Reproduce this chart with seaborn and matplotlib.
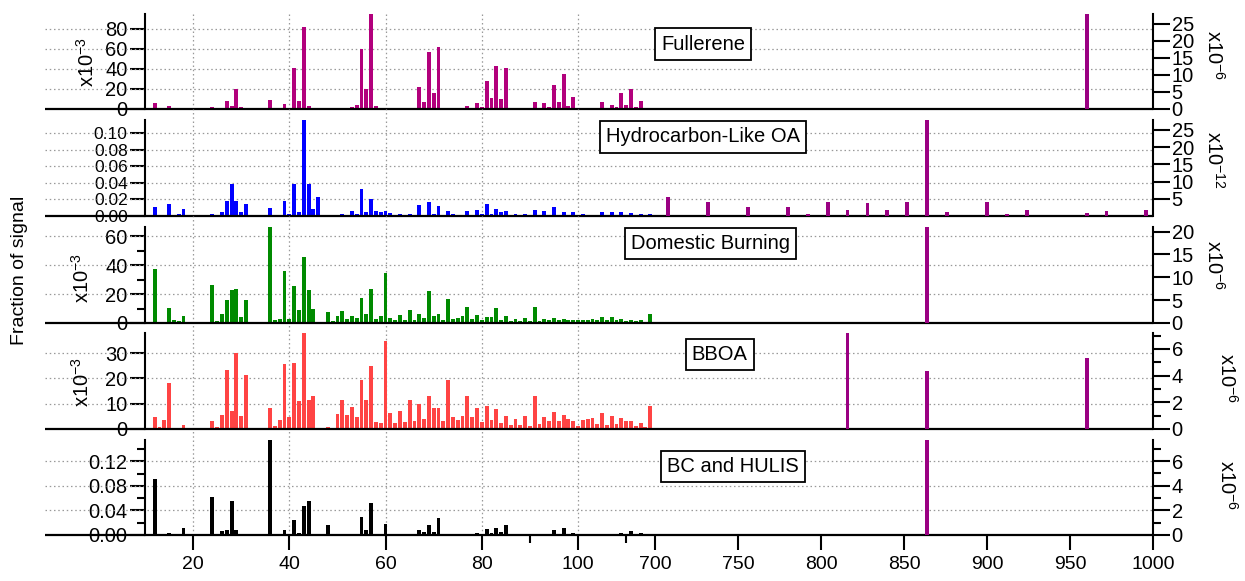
import numpy as np
import matplotlib
matplotlib.use("Agg")
import matplotlib.pyplot as plt
from matplotlib.ticker import FormatStrFormatter
import seaborn as sns

# ---------------- data ----------------
MZ = list(range(12, 116))

FULLERENE = [5.6, 0.5, 1.0, 2.6, 0.5, 0.5, 0.5, 0.3, 0, 0, 0, 0.3, 2.0, 0.3, 0.5, 8.3, 2.6, 19.6, 2.3, 1.3,
             0, 0, 0, 0.3, 9.3, 0.5, 0.5, 5.0, 1.5, 41, 8, 81.6, 3, 1, 1, 0.5, 0.5, 0.5, 0.5, 1,
             0.5, 2.3, 4, 60, 20, 95, 3, 0.5, 0.5, 0.5, 0.5, 0.5, 0.5, 1, 0.7, 21.6, 7.3, 57, 16.3, 62,
             0.5, 0.5, 0.3, 0.3, 0.3, 3.3, 0.3, 6, 2, 27.6, 11, 42.6, 10.3, 41, 0.5, 0.3, 0.3, 0.3, 0.3, 7.3,
             1.3, 5.6, 2, 24, 7.3, 35.3, 3.3, 12, 0.5, 0.5, 0.3, 0.3, 0.3, 6.6, 1, 4.3, 2, 16.3, 3.6, 20,
             2, 8.3, 1, 0.5]

HOA = [0.0112, 0.001, 0.001, 0.0145, 0.001, 0.002, 0.0084, 0, 0, 0, 0, 0, 0.003, 0.001, 0.0048, 0.018, 0.039, 0.018, 0.005, 0.014,
       0, 0, 0, 0, 0.0092, 0.0005, 0.001, 0.0185, 0.003, 0.0385, 0.005, 0.116, 0.039, 0.0088, 0.023, 0.001, 0.001, 0.001, 0.001, 0.003,
       0.001, 0.006, 0.003, 0.033, 0.0045, 0.020, 0.0056, 0.005, 0.006, 0.0035, 0.001, 0.0025, 0.001, 0.0025, 0.001, 0.013, 0.001, 0.017, 0.0025, 0.012,
       0.001, 0.0064, 0.002, 0.001, 0.001, 0.0064, 0.001, 0.0072, 0.003, 0.014, 0.002, 0.0085, 0.0045, 0.0064, 0.001, 0.003, 0.001, 0.002, 0.001, 0.0068,
       0.001, 0.0064, 0.001, 0.0105, 0.001, 0.0052, 0.001, 0.0048, 0.001, 0.002, 0.001, 0.001, 0.001, 0.0044, 0.001, 0.0048, 0.001, 0.0052, 0.001, 0.0032,
       0.001, 0.002, 0.0005, 0.002]

DOMESTIC = [37.6, 0.7, 0.5, 10.4, 1.8, 1.2, 5, 0, 0, 0, 0, 0, 26.5, 1.6, 6, 16.1, 22.6, 23.3, 4.2, 16.1,
            0, 0, 0, 0, 66.5, 1.8, 2.5, 36, 2.5, 25.6, 8.8, 45.4, 22.6, 9.9, 0.7, 0.3, 7.6, 1.2, 5, 8.5,
            3, 5, 3.5, 17, 6.5, 23.3, 2.5, 4.6, 34.4, 3.2, 2, 5.8, 1.8, 8.8, 1.8, 6.2, 3.7, 21.9, 4.6, 6.2,
            1.8, 16.6, 2.5, 3.7, 4.8, 11, 3, 5.5, 1.8, 4.4, 4.4, 10.1, 2.3, 4.6, 1.4, 2.5, 1.4, 3.7, 1.2, 10.8,
            1.2, 3, 1.8, 3.7, 2.3, 2.5, 2, 2.3, 1.8, 2, 2.3, 2.8, 1.8, 4.4, 2, 4.2, 1.8, 3, 1.6, 2.3,
            1.6, 2.3, 0.5, 6.5]

BBOA = [4.6, 0.8, 3.4, 18.1, 0.4, 0.4, 1.6, 0, 0, 0, 0, 0, 3.2, 0.8, 5.7, 23.4, 7, 30, 5.2, 21.3,
        0, 0, 0, 0, 8.2, 1.2, 3.6, 25.8, 4.6, 26.3, 11.2, 38, 11.5, 13.1, 0.4, 0.3, 0.7, 0.4, 5.9, 11.6,
        5.7, 8.9, 4.6, 19.3, 11.6, 25, 2.6, 2.4, 34.7, 6.2, 2.4, 7.1, 2.8, 11.5, 3, 9.8, 4, 13.2, 8.5, 8.2,
        3.2, 19.2, 4.8, 3.4, 5, 12.9, 4.6, 8.5, 2.9, 9, 3.4, 7.9, 2.2, 5, 1.5, 4.1, 1.5, 5.3, 1.3, 13.2,
        1.8, 4.8, 3, 6.7, 3, 5.5, 4, 3.3, 1.3, 3.4, 4, 4.4, 2.1, 6.2, 1.6, 5.3, 2.1, 4.4, 3.2, 3,
        1.2, 2.5, 0.9, 9.1]

BC_HULIS = [0.0914, 0, 0, 0.003, 0.002, 0.002, 0.0114, 0, 0, 0, 0, 0, 0.0628, 0.001, 0.006, 0.0076, 0.055, 0.0087, 0.0016, 0,
            0, 0, 0, 0, 0.16, 0.001, 0.001, 0.0087, 0.001, 0.0238, 0.003, 0.0476, 0.055, 0.001, 0.0016, 0, 0.0157, 0, 0.002, 0.002,
            0, 0.0016, 0.002, 0.030, 0.0087, 0.053, 0, 0, 0.0184, 0, 0, 0.0016, 0, 0, 0, 0.008, 0.0054, 0.0168, 0.005, 0.028,
            0, 0.001, 0, 0, 0, 0.002, 0, 0.003, 0, 0.0097, 0.003, 0.012, 0.005, 0.0157, 0, 0, 0, 0, 0, 0,
            0, 0.001, 0, 0.0087, 0.002, 0.012, 0, 0.0032, 0, 0, 0, 0, 0, 0, 0, 0, 0, 0.003, 0, 0.0065,
            0, 0.003, 0, 0]

# high-mass (carbon cluster) signals, right-hand axes
FULL_HI_MZ = [960]
FULL_HI = [28.0]
HOA_HI_MZ = [708, 732, 756, 780, 792, 804, 816, 828, 840, 852, 864, 876, 900, 912, 924, 960, 972, 996]
HOA_HI = [5.6, 4.0, 2.6, 2.6, 0.5, 4.2, 1.8, 3.9, 1.7, 4.0, 28.6, 1.2, 4.0, 0.6, 1.8, 0.8, 1.5, 1.8]
DOM_HI_MZ = [864]
DOM_HI = [21.5]
BBOA_HI_MZ = [816, 864, 960]
BBOA_HI = [7.3, 4.35, 5.3]
BC_HI_MZ = [864]
BC_HI = [7.9]

NAMES = ["Fullerene", "Hydrocarbon-Like OA", "Domestic Burning", "BBOA", "BC and HULIS"]
X_MAJOR = [20, 40, 60, 80, 100, 700, 750, 800, 850, 900, 950, 1000]
X_MINOR = [90, 110]
X_GRID = [20, 40, 60, 80, 100]

# ---------------- style ----------------
sns.set_theme(style="white")
plt.rcParams['font.family'] = ['Liberation Sans', 'DejaVu Sans']
plt.rcParams['mathtext.default'] = 'regular'
plt.rcParams['axes.edgecolor'] = 'black'
plt.rcParams['xtick.color'] = 'black'
plt.rcParams['ytick.color'] = 'black'
plt.rcParams['text.color'] = 'black'

# broken x-axis: m/z 10-116 then 700-1000
BREAK_LO, BREAK_HI, K = 116.0, 700.0, 0.345


def fwd(x):
    x = np.asarray(x, dtype=float)
    return np.where(x < BREAK_HI, np.minimum(x, BREAK_LO), BREAK_LO + (x - BREAK_HI) * K)


def inv(u):
    u = np.asarray(u, dtype=float)
    return np.where(u <= BREAK_LO, u, BREAK_HI + (u - BREAK_LO) / K)


PURPLE = '#9a0082'
panels = [
    dict(vals=FULLERENE, color='#b2007c', ylim=(0, 95), yt=[0, 20, 40, 60, 80], ym=[], fmt='%d', lfs=14.5,
         hmz=FULL_HI_MZ, hv=FULL_HI, rylim=(0, 27.9), rt=[0, 5, 10, 15, 20, 25], rm=[],
         lmult=r'x10$^{-3}$', lpos=(-0.058, 0.49), rmult=r'x10$^{-6}$', rpos=(1.061, 0.57), box=(0.5536, 0.684)),
    dict(vals=HOA, color='#0000ff', ylim=(0, 0.116), yt=[0, 0.02, 0.04, 0.06, 0.08, 0.10], ym=[], fmt='%.2f', lfs=12.5,
         hmz=HOA_HI_MZ, hv=HOA_HI, rylim=(0, 27.9), rt=[5, 10, 15, 20, 25], rm=[],
         lmult=None, lpos=None, rmult=r'x10$^{-12}$', rpos=(1.061, 0.58), box=(0.5536, 0.823)),
    dict(vals=DOMESTIC, color='#008a00', ylim=(0, 66.3), yt=[0, 20, 40, 60], ym=[10, 30, 50], fmt='%d', lfs=14.5,
         hmz=DOM_HI_MZ, hv=DOM_HI, rylim=(0, 21.0), rt=[0, 5, 10, 15, 20], rm=[],
         lmult=r'x10$^{-3}$', lpos=(-0.063, 0.47), rmult=r'x10$^{-6}$', rpos=(1.061, 0.60), box=(0.5606, 0.826)),
    dict(vals=BBOA, color='#ff4444', ylim=(0, 38), yt=[0, 10, 20, 30], ym=[], fmt='%d', lfs=14.5,
         hmz=BBOA_HI_MZ, hv=BBOA_HI, rylim=(0, 7.2), rt=[0, 2, 4, 6], rm=[1, 3, 5, 7],
         lmult=r'x10$^{-3}$', lpos=(-0.063, 0.49), rmult=r'x10$^{-6}$', rpos=(1.074, 0.53), box=(0.570, 0.78)),
    dict(vals=BC_HULIS, color='#000000', ylim=(0, 0.155), yt=[0, 0.04, 0.08, 0.12], ym=[0.02, 0.06, 0.10, 0.14], fmt='%.2f', lfs=14.5,
         hmz=BC_HI_MZ, hv=BC_HI, rylim=(0, 7.72), rt=[0, 2, 4, 6], rm=[1, 3, 5, 7],
         lmult=None, lpos=None, rmult=r'x10$^{-6}$', rpos=(1.074, 0.53), box=(0.583, 0.72)),
]

FW, FH = 1245, 581
fig = plt.figure(figsize=(FW / 100, FH / 100), dpi=100)
fig.patch.set_facecolor('white')
PX = [(14, 109), (120, 216), (227, 323), (333, 429), (440, 535)]
LEFT, RIGHT = 145, 1153
EXT = (45 - LEFT) / (RIGHT - LEFT)

axes = []
for i, (t, b) in enumerate(PX):
    ax = fig.add_axes([LEFT / FW, 1 - b / FH, (RIGHT - LEFT) / FW, (b - t) / FH],
                      sharex=axes[0] if axes else None)
    axes.append(ax)
axes[0].set_xscale('function', functions=(fwd, inv))

GRID_KW = dict(color='#999999', lw=0.9, ls=(0, (1.2, 2.2)))

for i, (ax, p) in enumerate(zip(axes, panels)):
    t, b = PX[i]
    ax.set_facecolor('none')
    sns.barplot(x=MZ, y=p['vals'], native_scale=True, width=0.8, color=p['color'],
                saturation=1, errorbar=None, linewidth=0, ax=ax, zorder=3)
    ax.set_ylim(*p['ylim'])
    ax.set_yticks(p['yt'])
    ax.set_yticks(p['ym'], minor=True)
    ax.yaxis.set_major_formatter(FormatStrFormatter(p['fmt']))
    ax.tick_params(axis='y', which='major', direction='out', length=11, width=1.5, labelsize=p['lfs'], pad=1.5)
    ax.tick_params(axis='y', which='minor', direction='out', length=6, width=1.5, left=True)
    sns.despine(ax=ax, top=True, right=True, bottom=True)
    ax.spines['left'].set_linewidth(1.5)

    # horizontal grid (extends left of the axis, as in the reference)
    for gy in p['yt'][1:]:
        ax.plot([EXT, 1], [gy, gy], transform=ax.get_yaxis_transform(), clip_on=False, zorder=1, **GRID_KW)
    ax.plot([EXT, 1], [0, 0], transform=ax.get_yaxis_transform(), clip_on=False,
            color='black', lw=1.6, zorder=4, solid_capstyle='butt')

    # vertical grid, continuous through the gaps
    ytop = 1.0 if i == 0 else 1 + (t - PX[i - 1][1]) / (b - t)
    for gx in X_GRID:
        ax.axvline(gx, ymin=0, ymax=ytop, clip_on=False, zorder=1, **GRID_KW)

    ax2 = ax.twinx()
    ax2.bar(p['hmz'], p['hv'], width=2.3, color=PURPLE, linewidth=0, zorder=3)
    ax2.set_ylim(*p['rylim'])
    ax2.set_yticks(p['rt'])
    ax2.set_yticks(p['rm'], minor=True)
    ax2.yaxis.set_major_formatter(FormatStrFormatter('%d'))
    ax2.tick_params(axis='y', which='major', direction='out', length=12, width=1.5, labelsize=14.5, pad=1.5)
    ax2.tick_params(axis='y', which='minor', direction='out', length=6, width=1.5, right=True)
    for s in ['top', 'left', 'bottom']:
        ax2.spines[s].set_visible(False)
    ax2.spines['right'].set_visible(True)
    ax2.spines['right'].set_linewidth(1.5)
    ax.set_xlabel('')
    ax.set_ylabel('')

    if p['lmult']:
        ax.text(*p['lpos'], p['lmult'], transform=ax.transAxes, rotation=90,
                ha='center', va='center', fontsize=14.5)
    ax2.text(*p['rpos'], p['rmult'], transform=ax.transAxes, rotation=-90,
             ha='center', va='center', fontsize=14.5)
    ax2.text(*p['box'], NAMES[i], transform=ax.transAxes, ha='center', va='center', fontsize=14.5,
             zorder=6, bbox=dict(boxstyle='square,pad=0.3', fc='white', ec='black', lw=1.3))

    for a in (ax, ax2):
        a.tick_params(axis='x', which='both', bottom=False, top=False, labelbottom=False)

axes[0].set_xlim(10, 1000)
bot = axes[-1]
bot.set_xticks(X_MAJOR)
bot.set_xticks(X_MINOR, minor=True)
bot.xaxis.set_major_formatter(FormatStrFormatter('%d'))
bot.tick_params(axis='x', which='major', bottom=True, labelbottom=True, direction='out',
                length=11, width=1.5, labelsize=14, pad=4)
bot.tick_params(axis='x', which='minor', bottom=True, direction='out', length=6, width=1.5)

fig.text(20 / FW, 1 - 270 / FH, 'Fraction of signal', rotation=90, ha='center', va='center', fontsize=14)

fig.savefig('out.png', dpi=100, facecolor='white')
